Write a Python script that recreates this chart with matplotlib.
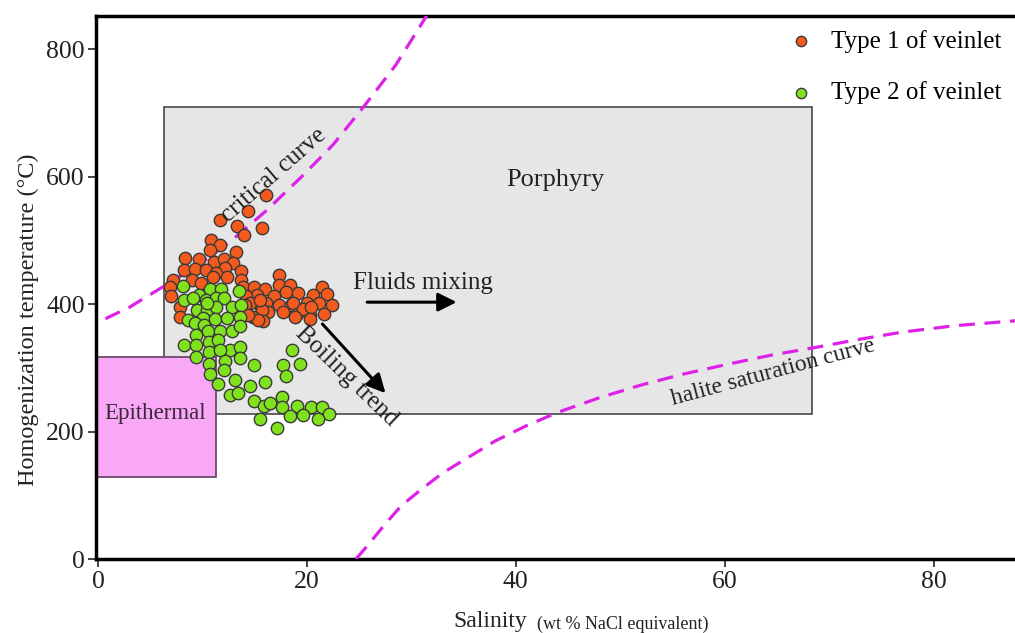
import matplotlib
matplotlib.use("Agg")
import matplotlib.pyplot as plt
from matplotlib.patches import Rectangle

plt.rcParams['font.family'] = ['Liberation Serif', 'DejaVu Serif']

# ---------------- data ----------------
type1_x = [16.1, 14.4, 11.7, 13.3, 14.0, 15.7,
           10.8, 11.7, 10.7, 13.2, 8.3, 9.7, 11.1, 12.1, 12.9,
           8.2, 9.3, 10.3, 12.2, 13.7, 11.3,
           7.2, 9.0, 11.0, 12.3, 13.7, 9.9, 17.3, 13.9,
           6.9, 14.9, 16.0, 17.3, 18.4, 21.4, 18.0, 19.1,
           15.2, 16.8, 20.6, 21.9, 14.2,
           15.5, 17.3, 18.5, 20.0, 22.4, 14.5, 16.1, 18.7, 21.2,
           16.3, 17.7, 19.0, 20.3, 21.6, 15.7, 19.6, 20.4, 14.1,
           7.8, 7.8, 14.8, 15.8, 18.9, 20.3, 15.3, 14.4, 15.5, 7.0]
type1_y = [571, 546, 532, 522, 509, 519,
           500, 493, 485, 482, 473, 471, 466, 471, 464,
           453, 455, 453, 456, 452, 449,
           438, 438, 442, 442, 438, 433, 445, 427,
           427, 427, 424, 430, 430, 427, 419, 418,
           414, 413, 414, 416, 413,
           398, 398, 398, 401, 398, 401, 401, 402, 402,
           388, 388, 385, 383, 385, 391, 393, 396, 398,
           396, 380, 380, 374, 379, 376, 375, 383, 406, 412]

type2_x = [8.1, 9.7, 10.7, 11.8, 13.5,
           8.2, 9.1, 10.3, 11.3, 12.1, 12.8, 13.7,
           9.5, 10.4, 11.3, 10.4,
           8.6, 10.0, 11.2, 12.3, 13.6, 9.3, 10.1,
           9.4, 10.5, 11.7, 12.8, 13.6,
           8.2, 9.4, 10.6, 11.5, 12.6, 13.6, 13.6, 9.4, 10.6, 11.7,
           10.6, 12.2, 10.7, 12.1, 11.5, 13.1, 14.5, 16.0,
           12.6, 13.4, 14.9, 14.9, 15.9, 16.5, 17.6, 17.6, 19.0, 20.4,
           21.4, 22.1, 15.5, 18.4, 19.6, 21.1, 17.1,
           18.6, 17.7, 19.3, 18.0]
type2_y = [428, 414, 424, 423, 421,
           407, 409, 406, 409, 409, 396, 398,
           391, 391, 395, 401,
           375, 378, 376, 378, 379, 370, 367,
           351, 357, 358, 358, 365,
           336, 336, 341, 344, 328, 333, 316, 317, 325, 328,
           306, 311, 290, 296, 275, 281, 271, 277,
           257, 261, 304, 248, 240, 244, 254, 239, 240, 239,
           238, 227, 220, 224, 226, 220, 205,
           328, 304, 306, 287]

critical_x = [0.7, 3.0, 6.0, 9.5, 12.8, 16.0, 19.5, 22.5, 25.4, 28.5, 31.6]
critical_y = [377, 395, 425, 460, 500, 545, 600, 650, 709, 775, 856]

halite_x = [24.7, 26.0, 27.5, 29.0, 31.0, 33.0, 35.5, 38.0, 41.0, 44.0, 48.0,
            52.0, 56.0, 60.4, 64.5, 68.7, 73.0, 77.0, 82.0, 88.0]
halite_y = [0, 25, 55, 83, 110, 135, 160, 185, 209, 230, 253,
            273, 290, 306, 320, 332, 345, 356, 366, 374]

porphyry_box = (6.3, 227, 68.4, 709)     # x0, y0, x1, y1
epithermal_box = (-0.2, 129, 11.3, 317)

x_ticks = [0, 20, 40, 60, 80]
y_ticks = [0, 200, 400, 600, 800]

# ---------------- figure ----------------
fig = plt.figure(figsize=(10.15, 6.33), dpi=100)
ax = fig.add_axes([96/1015, 1-559/633, 1-96/1015, (559-16)/633])
ax.set_xlim(-0.2, 87.8)
ax.set_ylim(0, 852)

ax.add_patch(Rectangle((porphyry_box[0], porphyry_box[1]),
                       porphyry_box[2]-porphyry_box[0], porphyry_box[3]-porphyry_box[1],
                       facecolor='#e6e6e6', edgecolor='#555555', lw=1.3, zorder=1))
ax.add_patch(Rectangle((epithermal_box[0], epithermal_box[1]),
                       epithermal_box[2]-epithermal_box[0], epithermal_box[3]-epithermal_box[1],
                       facecolor='#f9a8f7', edgecolor='#6a4a6a', lw=1.3, zorder=2))

ax.plot(critical_x, critical_y, color='#dd22e8', lw=2.3, dashes=(5, 3), zorder=3)
ax.plot(halite_x, halite_y, color='#dd22e8', lw=2.3, dashes=(5, 3), zorder=3)

ax.scatter(type1_x, type1_y, s=80, c='#f25a1e', edgecolors='#3a3a3a', linewidths=1, zorder=5)
ax.scatter(type2_x, type2_y, s=80, c='#80e21c', edgecolors='#3a3a3a', linewidths=1, zorder=6)

# annotations
ax.text(43.8, 594, 'Porphyry', fontsize=19, ha='center', va='center', color='#222222', zorder=7)
ax.text(5.5, 229, 'Epithermal', fontsize=16.5, ha='center', va='center', color='#3a2a3a', zorder=7)
ax.text(31.1, 433, 'Fluids mixing', fontsize=18, ha='center', va='center', color='#222222', zorder=7)
ax.annotate('', xy=(34.6, 403), xytext=(25.5, 403),
            arrowprops=dict(arrowstyle='-|>', lw=2.2, color='black', mutation_scale=28), zorder=7)
ax.text(23.8, 286, 'Boiling trend', fontsize=18, rotation=-44, ha='center', va='center',
        rotation_mode='anchor', color='#222222', zorder=7)
ax.annotate('', xy=(27.7, 257), xytext=(21.3, 372),
            arrowprops=dict(arrowstyle='-|>', lw=2.2, color='black', mutation_scale=28), zorder=7)
ax.text(16.8, 602, 'critical curve', fontsize=18, rotation=41, ha='center', va='center',
        rotation_mode='anchor', color='#222222', zorder=7)
ax.text(64.6, 292, 'halite saturation curve', fontsize=17, rotation=15, ha='center', va='center',
        rotation_mode='anchor', color='#222222', zorder=7)

# legend
h1 = ax.scatter([], [], s=55, c='#f25a1e', edgecolors='#3a3a3a', linewidths=1, label='Type 1 of veinlet')
h2 = ax.scatter([], [], s=55, c='#80e21c', edgecolors='#3a3a3a', linewidths=1, label='Type 2 of veinlet')
ax.legend(handles=[h1, h2], loc='upper right', bbox_to_anchor=(1.0, 1.0), frameon=False,
          fontsize=18, handletextpad=0.6, labelspacing=1.15, borderaxespad=0.15, borderpad=0.4,
          handlelength=1.2)

# axes styling
for side in ['left', 'bottom', 'top']:
    ax.spines[side].set_linewidth(2.5)
ax.spines['right'].set_visible(False)
ax.set_xticks(x_ticks)
ax.set_yticks(y_ticks)
ax.tick_params(axis='both', direction='out', length=6, width=1.2, labelsize=18.5, colors='#222222')
ax.tick_params(axis='y', pad=2)
ax.tick_params(axis='x', pad=3)

fig.text(28/1015, 1-320/633, 'Homogenization temperature (°C)', rotation=90, fontsize=17.5,
         ha='center', va='center', color='#222222')
fig.text(453/1015, 1-622/633, 'Salinity', fontsize=17, ha='left', va='center', color='#222222')
fig.text(537/1015, 1-624/633, '(wt % NaCl equivalent)', fontsize=13, ha='left', va='center', color='#222222')

fig.savefig('out.png', dpi=100)
